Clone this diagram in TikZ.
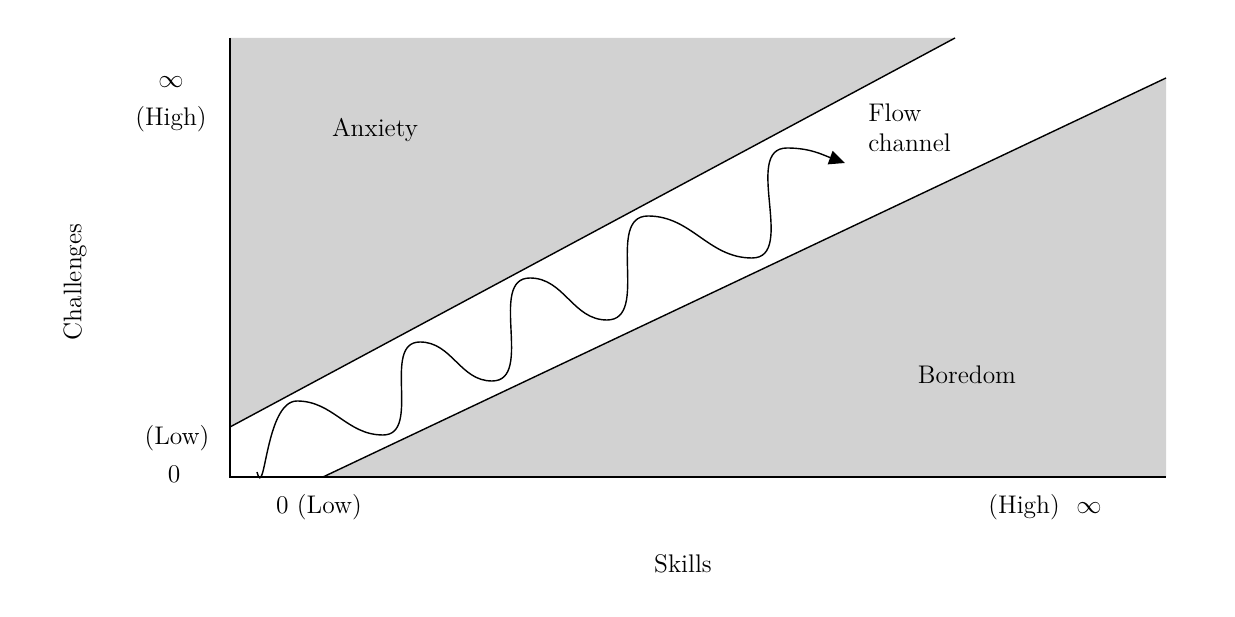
\documentclass[tikz,border=0pt]{standalone}
\usetikzlibrary{arrows.meta}
\begin{document}
\begin{tikzpicture}[x=0.02cm,y=-0.02cm,
  lbl/.style={font=\fontsize{14.5}{17}\selectfont, inner sep=0pt},
  ln/.style={line width=0.8pt}]
\useasboundingbox (0,0) rectangle (1235,617);
\fill[gray!35] (230,38) -- (955,38) -- (230,427) -- cycle;
\fill[gray!35] (323,477) -- (1166,78) -- (1166,477) -- cycle;
\coordinate (ytop) at (230,38);
\coordinate (org) at (230,477);
\coordinate (xend) at (1166,477);
\coordinate (u1) at (230,427); \coordinate (u2) at (955,38);
\coordinate (l1) at (323,477); \coordinate (l2) at (1166,78);
\draw[ln] (ytop) -- (org) -- (xend);
\draw[ln] (u1) -- (u2);
\draw[ln] (l1) -- (l2);
\coordinate (w0) at (257,472);
\coordinate (p1) at (297,401); \coordinate (t1) at (383,435);
\coordinate (p2) at (420,342); \coordinate (t2) at (492,381);
\coordinate (p3) at (530,278); \coordinate (t3) at (607,320);
\coordinate (p4) at (648,216); \coordinate (t4) at (752,258);
\coordinate (p5) at (787,148); \coordinate (wend) at (845,163);
\draw[ln,-{Triangle[length=9pt,width=8pt]}] (w0) to[out=-75,in=180] (p1)
  to[out=0,in=180] (t1) to[out=0,in=180] (p2)
  to[out=0,in=180] (t2) to[out=0,in=180] (p3)
  to[out=0,in=180] (t3) to[out=0,in=180] (p4)
  to[out=0,in=180] (t4) to[out=0,in=180] (p5)
  to[out=0,in=160] (wend);
\node[lbl] (inf1) at (171,82) {$\infty$};
\node[lbl] (high1) at (171,119) {(High)};
\node[lbl] (low1) at (177,438) {(Low)};
\node[lbl] (zero1) at (174,474) {0};
\node[lbl] (anx) at (375,130) {Anxiety};
\node[lbl,align=left,anchor=west] (flow) at (868,128) {Flow\\channel};
\node[lbl] (bore) at (967,375) {Boredom};
\node[lbl] (zero2) at (319,507) {0 (Low)};
\node[lbl] (high2) at (1045,507) {(High)\ \ $\infty$};
\node[lbl] (skills) at (683,564) {Skills};
\node[lbl,rotate=90] (chal) at (75,282) {Challenges};
\end{tikzpicture}
\end{document}
